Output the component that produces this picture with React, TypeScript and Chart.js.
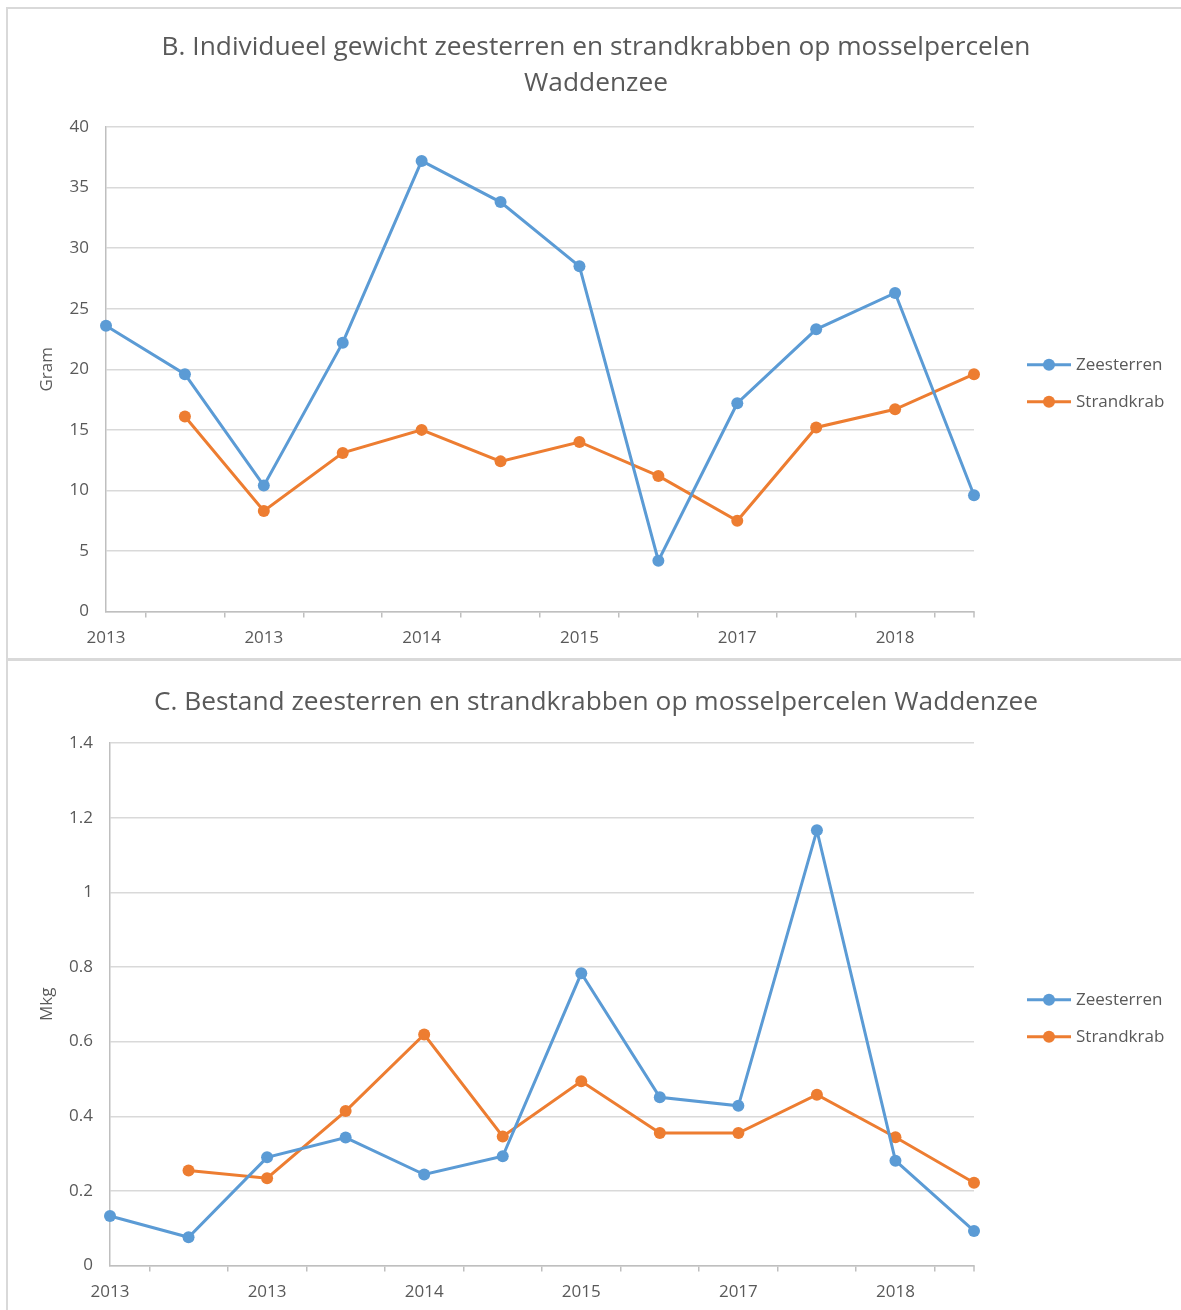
import React, { useEffect, useRef } from "react";
import { Chart, registerables } from "chart.js";

Chart.register(...registerables);

// ---- data ----
const tickLabels = ["2013", "", "2013", "", "2014", "", "2015", "", "2017", "", "2018", ""];

const seriesNames = ["Zeesterren", "Strandkrab"];

const gewichtZeesterren = [23.6, 19.6, 10.4, 22.2, 37.2, 33.8, 28.5, 4.2, 17.2, 23.3, 26.3, 9.6];
const gewichtStrandkrab = [null, 16.1, 8.3, 13.1, 15.0, 12.4, 14.0, 11.2, 7.5, 15.2, 16.7, 19.6];

const bestandZeesterren = [0.133, 0.076, 0.29, 0.343, 0.244, 0.293, 0.783, 0.451, 0.428, 1.166, 0.281, 0.093];
const bestandStrandkrab = [null, 0.255, 0.234, 0.414, 0.619, 0.346, 0.494, 0.355, 0.355, 0.458, 0.344, 0.222];

const titleB = ["B. Individueel gewicht zeesterren en strandkrabben op mosselpercelen", "Waddenzee"];
const titleC = ["C. Bestand zeesterren en strandkrabben op mosselpercelen Waddenzee"];

const BLUE = "#5b9bd5";
const ORANGE = "#ed7d31";
const TEXT = "#595959";
const GRID = "#d9d9d9";
const AXIS = "#bfbfbf";
const FONT = "'Open Sans', sans-serif";

const centerTitle = {
  id: "centerTitle",
  afterDraw(chart: any, _args: any, opts: any) {
    const { ctx, width } = chart;
    ctx.save();
    ctx.fillStyle = TEXT;
    ctx.font = `26.3px ${FONT}`;
    ctx.textAlign = "center";
    ctx.textBaseline = "middle";
    (opts.lines || []).forEach((line: string, i: number) => {
      ctx.fillText(line, width / 2 + 1, opts.y0 + i * opts.lineHeight);
    });
    ctx.restore();
  },
};

const sideLegend = {
  id: "sideLegend",
  afterDraw(chart: any) {
    const { ctx, chartArea } = chart;
    const n = chart.data.datasets.length;
    const mid = (chartArea.top + chartArea.bottom) / 2 + 14;
    chart.data.datasets.forEach((ds: any, i: number) => {
      const y = mid + (i - (n - 1) / 2) * 37;
      const x0 = chartArea.right + 53;
      ctx.save();
      ctx.strokeStyle = ds.borderColor;
      ctx.lineWidth = 3;
      ctx.beginPath();
      ctx.moveTo(x0, y);
      ctx.lineTo(x0 + 44, y);
      ctx.stroke();
      ctx.fillStyle = ds.borderColor;
      ctx.beginPath();
      ctx.arc(x0 + 22, y, 6, 0, Math.PI * 2);
      ctx.fill();
      ctx.fillStyle = TEXT;
      ctx.font = `17px ${FONT}`;
      ctx.textBaseline = "middle";
      ctx.textAlign = "left";
      ctx.fillText(ds.label, x0 + 49, y);
      ctx.restore();
    });
  },
};

const endTick = {
  id: "endTick",
  afterDraw(chart: any) {
    const { ctx, chartArea } = chart;
    const xs = chart.scales.x;
    const px = xs.getPixelForValue(tickLabels.length - 1);
    ctx.save();
    ctx.strokeStyle = AXIS;
    ctx.lineWidth = 1.5;
    ctx.beginPath();
    ctx.moveTo(px, chartArea.bottom);
    ctx.lineTo(px, chartArea.bottom + 6);
    ctx.stroke();
    ctx.restore();
  },
};

function makeConfig(opts: {
  zee: (number | null)[];
  krab: (number | null)[];
  title: string[];
  titleY: number;
  padTop: number;
  yTitle: string;
  yMax: number;
  yStep: number;
  yWidth: number;
  padBottom: number;
}) {
  const ds = (label: string, data: (number | null)[], color: string) => ({
    label,
    data,
    borderColor: color,
    backgroundColor: color,
    borderWidth: 3,
    pointRadius: 6,
    pointHoverRadius: 6,
    pointBorderWidth: 0,
    pointBackgroundColor: color,
    tension: 0,
    spanGaps: false,
  });
  return {
    type: "line",
    data: {
      labels: tickLabels,
      datasets: [ds(seriesNames[0], opts.zee, BLUE), ds(seriesNames[1], opts.krab, ORANGE)],
    },
    options: {
      animation: false,
      responsive: false,
      maintainAspectRatio: false,
      events: [],
      layout: { padding: { left: 0, right: 207, top: opts.padTop, bottom: opts.padBottom } },
      plugins: {
        legend: { display: false },
        tooltip: { enabled: false },
        title: { display: false },
        centerTitle: { lines: opts.title, y0: opts.titleY, lineHeight: 36 },
      },
      scales: {
        x: {
          type: "category",
          offset: false,
          grid: {
            display: true,
            drawOnChartArea: false,
            drawTicks: true,
            tickLength: 6,
            offset: true,
            color: AXIS,
            lineWidth: 1.5,
          },
          border: { display: true, color: AXIS, width: 1.5 },
          ticks: {
            autoSkip: false,
            maxRotation: 0,
            minRotation: 0,
            padding: 10,
            color: TEXT,
            font: { family: FONT, size: 17 },
          },
        },
        y: {
          min: 0,
          max: opts.yMax,
          afterFit: (s: any) => {
            s.width = opts.yWidth;
          },
          grid: { color: GRID, lineWidth: 1.5, drawTicks: false },
          border: { display: true, color: AXIS, width: 1.5 },
          ticks: {
            stepSize: opts.yStep,
            padding: 17,
            color: TEXT,
            font: { family: FONT, size: 17 },
            callback: (v: any) => String(+Number(v).toFixed(2)),
          },
          title: {
            display: true,
            text: opts.yTitle,
            color: TEXT,
            font: { family: FONT, size: 17 },
            padding: { top: 28, bottom: 0 },
          },
        },
      },
    },
    plugins: [sideLegend, endTick, centerTitle],
  };
}

function ChartCanvas({ config, width, height, style }: any) {
  const ref = useRef<HTMLCanvasElement | null>(null);
  useEffect(() => {
    if (!ref.current) return;
    const chart = new Chart(ref.current, config as any);
    return () => chart.destroy();
  }, []);
  return <canvas ref={ref} width={width} height={height} style={{ position: "absolute", width, height, ...style }} />;
}

export default function App() {
  const cfgB = makeConfig({
    zee: gewichtZeesterren,
    krab: gewichtStrandkrab,
    title: titleB,
    titleY: 38,
    padTop: 117,
    yTitle: "Gram",
    yMax: 40,
    yStep: 5,
    yWidth: 97,
    padBottom: 2,
  });
  const cfgC = makeConfig({
    zee: bestandZeesterren,
    krab: bestandStrandkrab,
    title: titleC,
    titleY: 39,
    padTop: 79,
    yTitle: "Mkg",
    yMax: 1.4,
    yStep: 0.2,
    yWidth: 101,
    padBottom: 0,
  });
  return (
    <div style={{ position: "absolute", left: 0, top: 0, width: 1181, height: 1310, background: "#fff", overflow: "hidden" }}>
      <div
        style={{
          position: "absolute",
          left: 6,
          top: 7,
          width: 1181,
          height: 654,
          borderTop: `2px solid ${GRID}`,
          borderLeft: `2px solid ${GRID}`,
          borderBottom: `3px solid ${GRID}`,
          boxSizing: "border-box",
        }}
      />
      <div
        style={{
          position: "absolute",
          left: 6,
          top: 661,
          width: 1181,
          height: 660,
          borderLeft: `2px solid ${GRID}`,
          boxSizing: "border-box",
        }}
      />
      <ChartCanvas config={cfgB} width={1172} height={650} style={{ left: 9, top: 10 }} />
      <ChartCanvas config={cfgC} width={1172} height={648} style={{ left: 9, top: 664 }} />
    </div>
  );
}
